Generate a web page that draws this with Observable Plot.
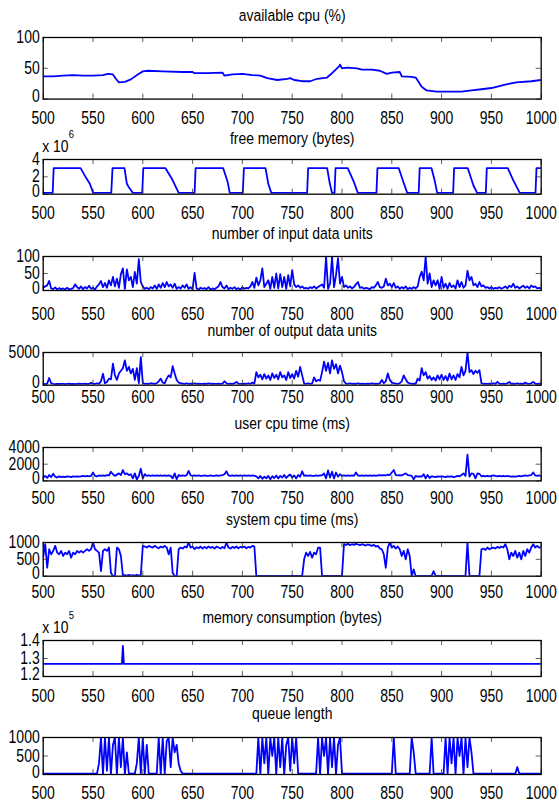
<!DOCTYPE html>
<html><head><meta charset="utf-8">
<script src="https://cdn.jsdelivr.net/npm/d3@7"></script>
<script src="https://cdn.jsdelivr.net/npm/@observablehq/plot@0.6"></script>
<style>
body{margin:0;background:#fff;}
#chart{position:relative;width:559px;height:806px;overflow:hidden;background:#fff;}
#chart svg{position:absolute;left:0;}
</style></head><body><div id="chart"></div>
<script>
// ---------- data ----------
const xTickValues = [500,550,600,650,700,750,800,850,900,950,1000];

// available cpu (%)
const cpuT = [500,510,520,530,540,550,560,565,570,573,576,582,588,595,600,605,620,640,650,652,665,680,682,690,700,710,718,725,735,745,748,752,760,768,775,785,790,795,797,798,800,805,815,820,830,838,845,850,858,860,870,874,880,885,895,920,930,940,950,955,965,975,990,1000];
const cpuV = [37,37,38,39,38,38,39,41,40,33,27,28,32,40,45,46,45,44,44,42,42,43,38,40,41,39,38,34,31,33,34,31,29,29,33,35,42,50,53,56,50,51,50,48,48,46,41,43,44,37,36,35,20,14,12,12,14,16,18,20,24,27,29,31];

// free memory (x 10^6 bytes)
const memT = [500,509.5,510.5,537.5,543.5,546.8,550.2,568.3,569.6,581.6,584,586,590,599.4,600.5,622.8,630,636,652,653,680.7,685,687.3,700.4,701.5,723.2,726,729,765,766,785.1,787.8,790,792.5,793.5,805.8,812,815.9,834.6,835.6,857,862,865.5,877,878,889.9,893,895.6,911.6,912.6,926.3,932,935.7,944.4,945.4,966.5,972,978.5,994.3,995.3,1000];
const memV = [0.15,0.15,3,3,1.8,1.2,0.15,0.15,3,3,1.2,0.8,0.15,0.15,3,3,1.6,0.15,0.15,3,3,1.5,0.15,0.15,3,3,1.2,0.15,0.15,3,3,1.2,0.15,0.15,3,3,1.4,0.15,0.15,3,3,1.3,0.15,0.15,3,3,1.6,0.15,0.15,3,3,1.0,0.15,0.15,3,3,1.6,0.15,0.15,3,3];

// sampling times of the noisy series
const t = [
500,502,504,506,508,510,512,514,516,518,
520,522,524,526,528,530,532,534,536,538,
540,542,544,546,548,550,552,554,556,558,
560,562,564,566,568,570,572,574,576,578,
580,582,584,586,588,590,592,594,596,598,
600,602,604,606,608,610,612,614,616,618,
620,622,624,626,628,630,632,634,636,638,
640,642,644,646,648,650,652,654,656,658,
660,662,664,666,668,670,672,674,676,678,
680,682,684,686,688,690,692,694,696,698,
700,702,704,706,708,710,712,714,716,718,
720,722,724,726,728,730,732,734,736,738,
740,742,744,746,748,750,752,754,756,758,
760,762,764,766,768,770,772,774,776,778,
780,782,784,786,788,790,792,794,796,798,
800,802,804,806,808,810,812,814,816,818,
820,822,824,826,828,830,832,834,836,838,
840,842,844,846,848,850,852,854,856,858,
860,862,864,866,868,870,872,874,876,878,
880,882,884,886,888,890,892,894,896,898,
900,902,904,906,908,910,912,914,916,918,
920,922,924,926,928,930,932,934,936,938,
940,942,944,946,948,950,952,954,956,958,
960,962,964,966,968,970,972,974,976,978,
980,982,984,986,988,990,992,994,996,998,
1000];

// number of input data units
const inputV = [
8,12,15,28,6,4,9,3,7,4,
6,3,8,4,5,7,18,10,5,12,
4,10,6,14,5,8,3,12,18,28,
10,22,8,30,15,40,12,35,8,48,
65,5,62,30,40,10,55,20,92,25,
12,5,8,4,10,6,15,5,18,8,
22,10,25,12,18,8,20,5,10,6,
15,8,18,5,10,4,52,6,3,8,
5,7,4,10,3,6,4,8,12,25,
10,6,15,4,8,5,10,4,7,3,
10,5,8,6,12,25,8,38,15,30,
65,10,20,30,5,40,8,50,6,48,
10,40,5,45,12,60,18,10,15,8,
12,6,8,5,10,7,12,6,10,14,
18,8,98,5,20,98,10,45,95,20,
40,10,15,8,12,6,10,18,25,8,
10,5,8,6,4,10,8,15,25,10,
8,12,35,15,20,10,22,8,12,5,
10,6,12,4,8,5,10,6,12,40,
55,30,100,20,50,10,30,15,30,5,
40,8,20,5,22,10,15,6,30,10,
25,8,15,58,30,40,15,20,10,25,
12,15,8,10,6,10,5,8,6,10,
5,8,12,6,14,10,20,8,12,6,
10,14,8,12,6,15,10,12,6,8,
5];

// number of output data units
const outputV = [
200,150,250,1100,300,200,150,200,180,200,
200,150,200,250,180,200,150,200,250,200,
200,250,180,200,350,250,200,300,200,600,
1750,300,500,1000,900,3300,1500,800,1800,2200,
2600,3800,2200,2800,1800,2500,800,2600,300,4300,
300,200,250,200,300,250,200,300,600,1000,
400,300,1000,1500,1200,2900,1800,800,400,300,
250,200,300,200,250,200,300,200,250,200,
200,250,200,300,200,250,200,200,250,200,
250,600,300,200,250,200,300,500,250,200,
200,250,200,300,200,400,250,2000,1200,1600,
900,1700,1000,1500,800,1800,1100,1600,900,2000,
1200,1500,800,2000,1100,1700,1000,2200,1300,2800,
1500,250,200,300,200,250,1200,600,800,700,
2000,3600,2200,3400,1800,3800,2500,3200,1800,3000,
2000,600,250,200,300,200,250,200,300,200,
250,200,200,250,200,300,200,250,200,300,
800,300,600,1800,800,400,300,250,200,300,
600,1500,900,400,300,200,250,200,1000,700,
2600,1500,2000,1000,1400,800,1200,700,1500,900,
1600,800,1400,700,1800,900,1500,800,1700,1200,
2800,1500,2200,5000,2000,2300,1700,2200,1900,2300,
300,200,250,200,250,200,300,200,500,250,
200,250,200,300,500,200,250,200,300,200,
250,200,400,250,200,300,500,250,200,250,
200];

// user cpu time (ms)
const userV = [
400,600,350,700,450,850,500,400,550,450,
500,450,550,500,450,550,500,550,500,550,
600,550,600,550,600,1000,600,550,650,600,
650,600,700,650,1100,800,600,750,900,700,
1300,800,900,700,800,300,900,150,600,1450,
300,800,600,650,600,650,600,650,600,650,
600,650,600,650,600,300,900,200,700,600,
650,600,700,1200,650,600,650,600,650,600,
600,650,600,600,650,600,600,650,600,650,
700,800,1150,650,600,650,600,650,600,650,
600,650,600,650,600,650,600,550,300,600,
250,500,300,600,200,550,350,650,300,600,
400,700,350,600,750,400,650,300,700,500,
1150,600,650,600,650,600,600,650,600,650,
650,900,300,1250,400,1100,300,1000,500,800,
600,650,600,650,600,650,600,1000,650,600,
650,600,650,600,650,600,650,600,650,700,
650,700,650,750,700,1000,1300,700,650,700,
650,800,900,700,650,600,200,600,500,550,
500,800,300,700,350,550,500,450,550,500,
550,500,450,550,500,550,450,500,600,550,
700,900,600,3150,500,900,850,300,900,850,
550,600,550,600,550,600,650,600,550,600,
550,600,550,600,550,500,550,500,550,600,
550,600,650,600,650,700,1000,650,600,650,
600];

// system cpu time (ms)
const systemV = [
570,950,250,800,650,750,900,700,650,750,
600,700,650,750,550,700,650,750,700,750,
700,750,800,750,800,1000,800,750,700,150,
750,800,750,850,100,0,0,850,800,600,
20,30,20,40,20,30,20,40,20,30,
900,880,850,900,870,850,900,860,830,880,
850,900,850,650,850,100,0,0,800,850,
820,880,850,1000,850,880,800,860,830,880,
820,870,830,880,840,870,820,880,850,820,
870,830,1000,850,820,870,840,880,830,870,
850,880,830,870,850,900,880,0,10,10,
10,10,10,10,10,10,10,10,10,10,
10,10,10,10,10,10,10,10,10,10,
10,500,700,600,720,550,700,650,850,850,
0,10,10,10,10,10,10,10,10,10,
10,950,930,960,920,950,930,960,940,920,
950,930,910,940,920,900,930,880,900,820,
800,650,250,850,1000,850,900,820,880,800,
600,750,500,800,600,0,200,0,10,10,
10,10,10,10,10,10,150,10,10,10,
10,10,10,10,10,10,10,10,10,10,
10,10,10,1000,10,10,10,10,10,10,
800,820,780,850,800,830,850,820,870,840,
880,850,950,800,500,700,600,750,550,700,
500,750,600,800,700,850,950,850,900,850,
850];

// memory consumption (x 10^5 bytes)
const consT = [500,579,580,581,1000];
const consV = [1.27,1.27,1.37,1.27,1.27];

// queue length
const queueV = [
20,20,20,20,20,20,20,20,20,20,
20,20,20,20,20,20,20,20,20,20,
20,20,20,20,20,20,20,20,300,1000,
0,1000,100,1000,0,800,1000,0,1000,200,
1000,0,600,20,20,20,20,300,1000,20,
1000,20,800,20,20,20,20,20,1000,0,
1000,20,900,1000,200,1000,600,800,300,100,
20,20,20,20,20,20,20,20,20,20,
20,20,20,20,20,20,20,20,20,20,
20,20,20,20,20,20,20,20,20,20,
20,20,20,20,20,20,20,20,1000,0,
1000,300,1000,0,1000,500,1000,0,1000,200,
1000,0,800,1000,100,1000,300,1000,20,20,
20,20,20,20,20,20,20,20,1000,0,
1000,500,1000,0,1000,200,1000,0,800,1000,
20,20,20,20,20,20,20,20,20,20,
20,20,20,20,20,20,20,20,20,20,
20,20,20,20,20,20,1000,20,20,20,
20,20,20,20,20,1000,600,20,20,20,
20,20,20,20,20,1000,0,20,20,20,
20,20,1000,0,1000,300,1000,0,1000,500,
1000,0,1000,200,1000,600,20,20,20,20,
20,20,20,20,20,20,20,20,20,20,
20,20,20,20,20,20,20,20,200,20,
20,20,20,20,20,20,20,20,20,20,
20];

// ---------- layout ----------
const FONT = '"Liberation Sans",Arial,sans-serif';
const W = 559, ML = 42.7, MR = 18.3, M = 45;

const panels = [
  {title:"available cpu (%)", t:cpuT, v:cpuV, top:36.7, bottom:98.3, domain:[0,100], ticks:[0,50,100], labDy:19.7, titleDy:-22},
  {title:"free memory (bytes)", t:memT, v:memV, top:159.3, bottom:194, domain:[0,4], ticks:[0,2,4], labDy:19.5, titleDy:-20.5, exp:"6"},
  {title:"number of input data units", t:t, v:inputV, top:256, bottom:290, domain:[0,100], ticks:[0,50,100], labDy:24, titleDy:-23.3},
  {title:"number of output data units", t:t, v:outputV, top:352.3, bottom:385, domain:[0,5000], ticks:[0,5000], labDy:12, titleDy:-21.6},
  {title:"user cpu time (ms)", t:t, v:userV, top:447.3, bottom:480.7, domain:[0,4000], ticks:[0,2000,4000], labDy:17, titleDy:-23.6},
  {title:"system cpu time (ms)", t:t, v:systemV, top:542.3, bottom:576, domain:[0,1000], ticks:[0,500,1000], labDy:16.5, titleDy:-22.6},
  {title:"memory consumption (bytes)", t:consT, v:consV, top:640, bottom:676, domain:[1.2,1.4], ticks:[1.2,1.3,1.4], labDy:20, titleDy:-23, exp:"5", fmt:d=>d.toFixed(1)},
  {title:"queue length", t:t, v:queueV, top:737, bottom:774, domain:[0,1000], ticks:[0,500,1000], labDy:19, titleDy:-24}
];

const chart = document.getElementById("chart");
const plotW = W - ML - MR;

for (const p of panels) {
  const h = p.bottom - p.top;
  const data = p.t.map((x, i) => ({x, y: p.v[i]}));
  const tickLen = 5;
  const fmt = p.fmt || (d => String(d));
  const low = p.ticks.slice(0, 1), rest = p.ticks.slice(1);
  const marks = [
    Plot.line(data, {x:"x", y:"y", stroke:"#0000ff", strokeWidth:1.8, clip:true}),
    Plot.ruleX(xTickValues, {insetTop: h - tickLen, stroke:"#333", strokeWidth:0.8}),
    Plot.ruleX(xTickValues, {insetBottom: h - tickLen, stroke:"#333", strokeWidth:0.8}),
    Plot.ruleY(p.ticks, {insetRight: plotW - tickLen, stroke:"#333", strokeWidth:0.8}),
    Plot.ruleY(p.ticks, {insetLeft: plotW - tickLen, stroke:"#333", strokeWidth:0.8}),
    Plot.frame({stroke:"#000", strokeWidth:1.3}),
    // x tick labels
    Plot.text(xTickValues, {x:d=>d, frameAnchor:"bottom", lineAnchor:"middle", dy:p.labDy, text:d=>String(d), fontSize:17.5, fill:"#000", className:"tick"}),
    // y tick labels (lowest one nudged up, as in the original)
    Plot.text(rest, {y:d=>d, frameAnchor:"left", textAnchor:"end", lineAnchor:"middle", dx:-3.5, text:fmt, fontSize:17.5, fill:"#000", className:"tick"}),
    Plot.text(low, {y:d=>d, frameAnchor:"left", textAnchor:"end", lineAnchor:"middle", dx:-3.5, dy:-2.5, text:fmt, fontSize:17.5, fill:"#000", className:"tick"}),
    // panel title
    Plot.text([p.title], {frameAnchor:"top", lineAnchor:"middle", dy:p.titleDy, fontSize:17, fill:"#000"})
  ];
  if (p.exp) {
    marks.push(Plot.text(["x 10"], {frameAnchor:"top-left", textAnchor:"start", lineAnchor:"middle", dx:-1, dy:-13, fontSize:17, fill:"#000"}));
    marks.push(Plot.text([p.exp], {frameAnchor:"top-left", textAnchor:"start", lineAnchor:"middle", dx:25.6, dy:-25, fontSize:11.5, fill:"#000"}));
  }
  const svg = Plot.plot({
    width: W, height: h + 2*M,
    marginLeft: ML, marginRight: MR, marginTop: M, marginBottom: M,
    x: {domain:[500,1000], axis:null},
    y: {domain:p.domain, axis:null},
    style: {background:"transparent", overflow:"visible", fontFamily:FONT},
    marks
  });
  // narrow glyphs, like the original's condensed Helvetica
  svg.querySelectorAll("g").forEach(g => {
    const k = g.classList.contains("tick") ? 0.8 : 0.82;
    g.querySelectorAll(":scope > text").forEach(el => {
      const tr = el.getAttribute("transform") || "";
      el.setAttribute("transform", tr + ` scale(${k},1)`);
    });
  });
  svg.style.top = (p.top - M) + "px";
  chart.appendChild(svg);
}
</script></body></html>
